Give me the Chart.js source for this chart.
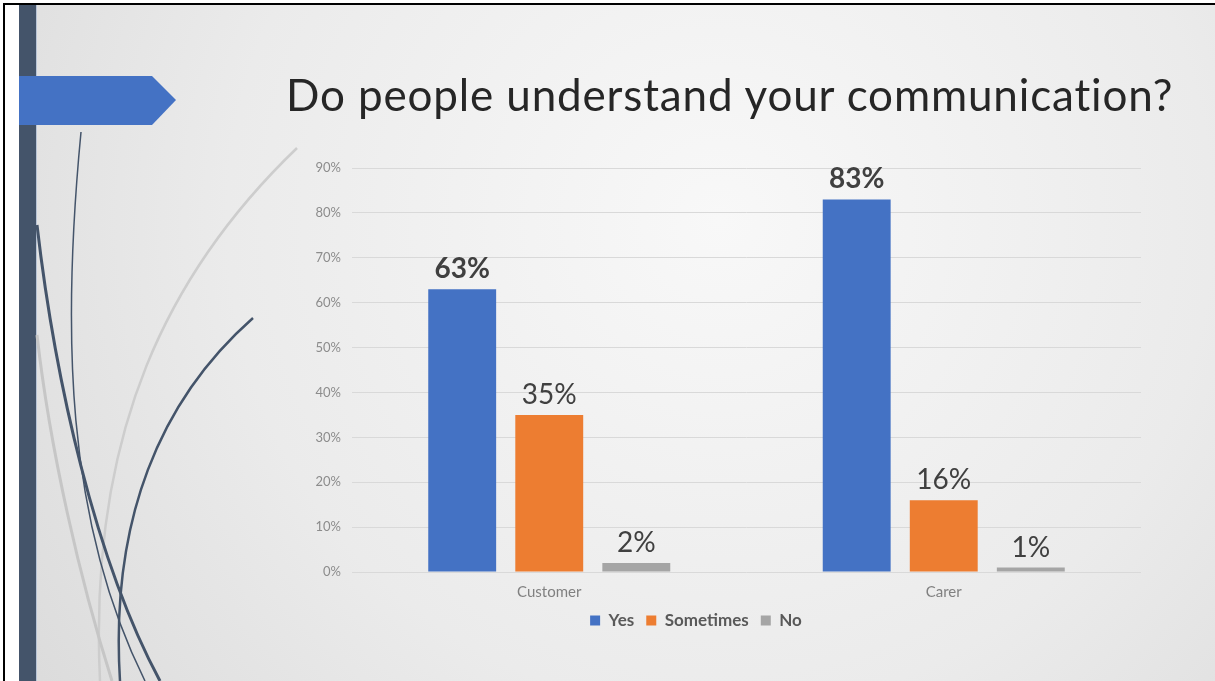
<!DOCTYPE html>
<html>
<head>
<meta charset="utf-8">
<script src="https://cdn.jsdelivr.net/npm/chart.js@4.4.0/dist/chart.umd.min.js"></script>
<style>
  html, body { margin: 0; padding: 0; overflow: hidden; }
  body { width: 1215px; height: 681px; position: relative; background: #fff; }
  #wrap { position: absolute; left: 0; top: 0; width: 1215px; height: 681px; }
  #title { position: absolute; left: 286px; top: 68px; width: 900px; margin: 0; font: 400 44px Lato, sans-serif;
           color: #262626; white-space: nowrap; letter-spacing: 0.85px; }
</style>
</head>
<body>
<div id="wrap"><canvas id="chart" width="1215" height="681"></canvas></div>
<h1 id="title">Do people understand your communication?</h1>
<script>
const categories = ['Customer', 'Carer'];
const seriesNames = ['Yes', 'Sometimes', 'No'];
const yesPct = [63, 83];
const sometimesPct = [35, 16];
const noPct = [2, 1];
const seriesColors = ['#4472C4', '#ED7D31', '#A5A5A5'];
const yMax = 90;
const yStep = 10;

// slide backdrop: frame, side bar, arrow and swooping lines
const slideBackground = {
  id: 'slideBackground',
  beforeDraw(chart) {
    const ctx = chart.ctx;
    const w = chart.width, h = chart.height;
    ctx.save();
    ctx.fillStyle = '#ffffff';
    ctx.fillRect(0, 0, w, h);

    const g = ctx.createRadialGradient(720, 220, 0, 720, 220, 820);
    g.addColorStop(0, '#f8f8f8');
    g.addColorStop(0.6, '#ebebeb');
    g.addColorStop(1, '#dcdcdc');
    ctx.fillStyle = g;
    ctx.fillRect(19, 5, w - 19, h - 5);

    ctx.fillStyle = '#000000';
    ctx.fillRect(3, 3, w - 3, 2);
    ctx.fillRect(3, 3, 2, h - 3);

    ctx.fillStyle = '#44546A';
    ctx.fillRect(19, 5, 17, h - 5);
    ctx.fillStyle = '#b8c4d6';
    ctx.fillRect(36, 5, 1, h - 5);

    ctx.fillStyle = '#4472C4';
    ctx.beginPath();
    ctx.moveTo(19, 76);
    ctx.lineTo(152, 76);
    ctx.lineTo(176, 100);
    ctx.lineTo(152, 125);
    ctx.lineTo(19, 125);
    ctx.closePath();
    ctx.fill();

    const curve = (pts, color, width) => {
      ctx.strokeStyle = color;
      ctx.lineWidth = width;
      ctx.beginPath();
      ctx.moveTo(pts[0], pts[1]);
      ctx.bezierCurveTo(pts[2], pts[3], pts[4], pts[5], pts[6], pts[7]);
      ctx.stroke();
    };
    curve([297, 148, 170, 270, 88, 430, 100, 681], '#cdcdcd', 2.5);
    curve([37, 335, 50, 450, 80, 580, 112, 681], '#c6c6c6', 3);
    curve([81, 132, 62, 330, 65, 520, 145, 681], '#44546A', 1.5);
    curve([37, 225, 55, 380, 95, 560, 160, 681], '#44546A', 3);
    curve([253, 318, 160, 400, 110, 520, 120, 681], '#44546A', 2.5);
    ctx.restore();
  }
};

// percentage labels above each bar
const valueLabels = {
  id: 'valueLabels',
  afterDatasetsDraw(chart) {
    const ctx = chart.ctx;
    ctx.save();
    ctx.textAlign = 'center';
    ctx.textBaseline = 'alphabetic';
    ctx.fillStyle = '#404040';
    chart.data.datasets.forEach((ds, i) => {
      const meta = chart.getDatasetMeta(i);
      ctx.font = (i === 0 ? 'bold ' : '') + '28px Lato';
      meta.data.forEach((bar, j) => {
        ctx.fillText(ds.data[j] + '%', bar.x, bar.y - 11);
      });
    });
    ctx.restore();
  }
};

const seriesData = [yesPct, sometimesPct, noPct];

new Chart(document.getElementById('chart'), {
  type: 'bar',
  data: {
    labels: categories,
    datasets: seriesNames.map((name, i) => ({
      label: name,
      data: seriesData[i],
      backgroundColor: seriesColors[i],
      borderWidth: 0,
      categoryPercentage: 0.662,
      barPercentage: 0.78
    }))
  },
  options: {
    responsive: false,
    animation: false,
    layout: { padding: { left: 251, right: 74, top: 168, bottom: 42 } },
    plugins: {
      legend: {
        position: 'bottom',
        labels: {
          boxWidth: 10, boxHeight: 10, padding: 12,
          color: '#595959',
          font: { family: 'Lato', size: 17, weight: 'bold' }
        }
      },
      tooltip: { enabled: false }
    },
    scales: {
      x: {
        grid: { display: false, drawTicks: false },
        border: { display: false },
        ticks: { color: '#808080', padding: 11, font: { family: 'Lato', size: 15 } },
        afterFit: s => { s.height = 28; }
      },
      y: {
        min: 0, max: yMax,
        grid: { color: '#d9d9d9', drawTicks: false },
        border: { display: false },
        ticks: {
          stepSize: yStep, padding: 11, color: '#8c8c8c',
          font: { family: 'Lato', size: 13 },
          callback: v => v + '%'
        },
        afterFit: s => { s.width = 101; }
      }
    }
  },
  plugins: [slideBackground, valueLabels]
});
</script>
</body>
</html>
